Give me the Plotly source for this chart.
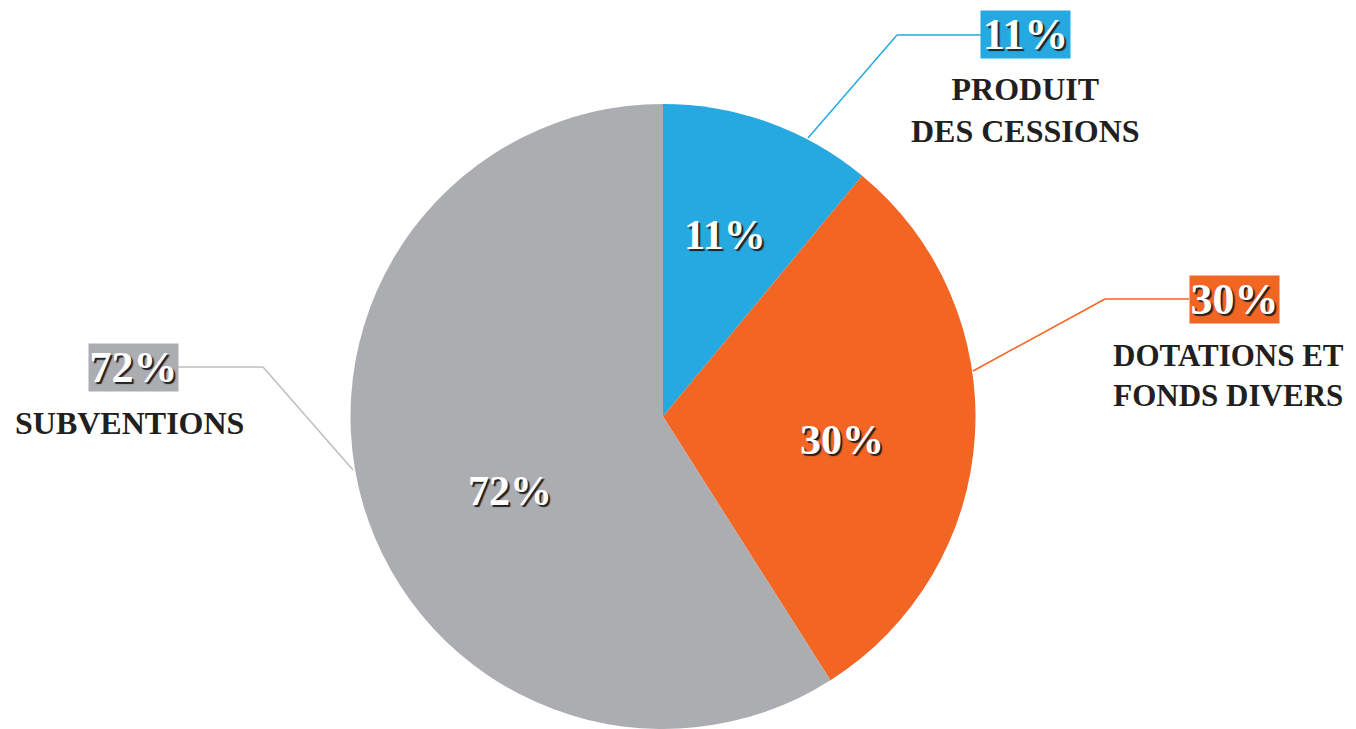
import plotly.graph_objects as go

categories = ["PRODUIT<br>DES CESSIONS", "DOTATIONS ET<br>FONDS DIVERS", "SUBVENTIONS"]
slice_shares = [11, 30, 59]          # angular share of the circle as drawn
pct_labels = ["11%", "30%", "72%"]   # printed percentages
colors = ["#26A9E0", "#F26522", "#ACADB0"]
line_colors = ["#26A9E0", "#F26522", "#BCBEC0"]

OFF = 8  # page body margin
W, H = 1356 - OFF, 729 - OFF
FONT = "Liberation Serif"
SHADOW = "2px 2px 1px #231F20"

def px(x, y):
    return (x - OFF) / W, 1 - (y - OFF) / H

# pie geometry in window pixels
CX, CY, R = 663, 417, 313
dx0, _ = px(CX - R, 0)
dx1, _ = px(CX + R, 0)
_, dy1 = px(0, CY - R)
_, dy0 = px(0, CY + R)

fig = go.Figure(go.Pie(
    labels=categories,
    values=slice_shares,
    text=pct_labels,
    textinfo="none",
    marker=dict(colors=colors, line=dict(width=0)),
    sort=False,
    direction="clockwise",
    rotation=0,
    hoverinfo="label+text",
    domain=dict(x=[dx0, dx1], y=[max(dy0, 0), dy1]),
    showlegend=False,
))

inside_pos = [(725, 235), (842, 440), (510, 491)]

# callouts: (box centre, category label centre, label size, leader line points)
callouts = [
    dict(box=(1025, 35), lab=(1025, 110), size=32, pts=[(808, 138), (897, 35), (981, 35)]),
    dict(box=(1234, 299), lab=(1228, 375), size=31, pts=[(973, 371), (1105, 299), (1189, 299)]),
    dict(box=(133, 367), lab=(129, 423), size=32, pts=[(353, 470), (263, 367), (178, 367)]),
]

shapes = []
annotations = []
for i, c in enumerate(callouts):
    pts = c["pts"]
    for (x0, y0), (x1, y1) in zip(pts[:-1], pts[1:]):
        a = px(x0, y0)
        b = px(x1, y1)
        shapes.append(dict(type="line", xref="paper", yref="paper",
                           x0=a[0], y0=a[1], x1=b[0], y1=b[1],
                           line=dict(color=line_colors[i], width=1.5)))
    bx, by = px(*c["box"])
    annotations.append(dict(
        x=bx, y=by, xref="paper", yref="paper", showarrow=False,
        text=pct_labels[i], bgcolor=colors[i], borderpad=0,
        width=89, height=47,
        xanchor="center", yanchor="middle",
        font=dict(family=FONT, size=44, color="white", weight="bold", shadow=SHADOW),
    ))
    lx, ly = px(*c["lab"])
    annotations.append(dict(
        x=lx, y=ly, xref="paper", yref="paper", showarrow=False,
        text=categories[i], align="center", xanchor="center", yanchor="middle",
        font=dict(family=FONT, size=c["size"], color="#231F20", weight="bold"),
    ))
    ix, iy = px(*inside_pos[i])
    annotations.append(dict(
        x=ix, y=iy, xref="paper", yref="paper", showarrow=False,
        text=pct_labels[i], xanchor="center", yanchor="middle",
        font=dict(family=FONT, size=42, color="white", weight="bold", shadow=SHADOW),
    ))

fig.update_layout(
    width=W, height=H,
    margin=dict(l=0, r=0, t=0, b=0),
    paper_bgcolor="white", plot_bgcolor="white",
    shapes=shapes, annotations=annotations,
)

fig.write_html("out.html")
